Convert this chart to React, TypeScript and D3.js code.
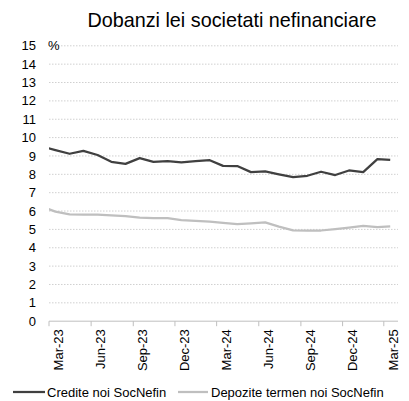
import * as d3 from "d3"

// monthly observations (mid-month), Feb-23 .. Mar-25
const months = [
  "2023-02", "2023-03", "2023-04", "2023-05", "2023-06", "2023-07", "2023-08",
  "2023-09", "2023-10", "2023-11", "2023-12", "2024-01", "2024-02", "2024-03",
  "2024-04", "2024-05", "2024-06", "2024-07", "2024-08", "2024-09", "2024-10",
  "2024-11", "2024-12", "2025-01", "2025-02", "2025-03",
]
const credite = [
  9.5, 9.32, 9.12, 9.28, 9.05, 8.68, 8.57, 8.88, 8.68, 8.72, 8.65, 8.72, 8.77,
  8.46, 8.45, 8.12, 8.16, 8.0, 7.85, 7.92, 8.14, 7.96, 8.21, 8.12, 8.83, 8.79,
]
const depozite = [
  6.22, 5.97, 5.82, 5.81, 5.81, 5.77, 5.72, 5.64, 5.62, 5.61, 5.51, 5.47, 5.42,
  5.35, 5.29, 5.33, 5.38, 5.15, 4.95, 4.93, 4.94, 5.02, 5.1, 5.19, 5.12, 5.16,
]
const yTicks = d3.range(0, 16)
const seriesNames = ["Credite noi SocNefin", "Depozite termen noi SocNefin"]
const colors = ["#404040", "#bfbfbf"]

const W = 409
const H = 401
const margin = { top: 46, right: 11, bottom: 80, left: 49 }

export default function App() {
  const parse = d3.timeParse("%Y-%m")
  const dates = months.map(m => d3.timeDay.offset(parse(m) as Date, 14))

  const x = d3.scaleTime()
    .domain([new Date(2023, 2, 1), new Date(2025, 3, 1)])
    .range([margin.left, W - margin.right])
  const y = d3.scaleLinear().domain([0, 15]).range([H - margin.bottom + 0.2, margin.top - 0.2])

  const xTicks = d3.timeMonth.range(new Date(2023, 2, 1), new Date(2025, 3, 2), 3)
  const fmt = d3.timeFormat("%b-%y")

  const line = d3.line<number>()
    .x((_, i) => x(dates[i]))
    .y(d => y(d))

  const font = "'Liberation Sans', Arial, sans-serif"
  const [x0, x1] = x.range()
  const yBase = y(0)

  return (
    <svg width={W} height={H} style={{ position: "absolute", left: 0, top: 0 }} fontFamily={font}>
      <rect width={W} height={H} fill="#fff" />
      <defs>
        <clipPath id="plot">
          <rect x={x0} y={0} width={x1 - x0} height={H} />
        </clipPath>
      </defs>

      <text x={232} y={27} fontSize={19.8} textAnchor="middle" fill="#000">
        Dobanzi lei societati nefinanciare
      </text>

      {/* gridlines */}
      {yTicks.filter(t => t > 0).map(t => (
        <line key={t} x1={x0} x2={x1} y1={y(t)} y2={y(t)}
          stroke="#d0d0d0" strokeWidth={1} strokeDasharray="1.5,1.5" />
      ))}
      {yTicks.map(t => (
        <text key={t} x={36} y={y(t)} dy="0.35em" fontSize={13} textAnchor="end" fill="#000">{t}</text>
      ))}
      <text x={48} y={y(15)} dy="0.35em" fontSize={13} fill="#000">%</text>

      {/* x axis */}
      <line x1={x0} x2={x1} y1={yBase} y2={yBase} stroke="#bfbfbf" strokeWidth={1} />
      {xTicks.map(t => (
        <g key={t.getTime()}>
          <line x1={x(t)} x2={x(t)} y1={yBase} y2={yBase + 5} stroke="#bfbfbf" strokeWidth={1} />
          <text transform={`translate(${x(t) + 14},${yBase + 8}) rotate(-90)`}
            fontSize={13} textAnchor="end" fill="#000">{fmt(t)}</text>
        </g>
      ))}

      {/* series */}
      <g clipPath="url(#plot)">
        <path d={line(depozite) ?? ""} fill="none" stroke={colors[1]} strokeWidth={2.25} strokeLinejoin="round" />
        <path d={line(credite) ?? ""} fill="none" stroke={colors[0]} strokeWidth={2.25} strokeLinejoin="round" />
      </g>

      {/* legend */}
      <line x1={13} x2={45} y1={392} y2={392} stroke={colors[0]} strokeWidth={2.25} />
      <text x={47} y={392} dy="0.35em" fontSize={13} fill="#000">{seriesNames[0]}</text>
      <line x1={178} x2={208} y1={392} y2={392} stroke={colors[1]} strokeWidth={2.25} />
      <text x={211} y={392} dy="0.35em" fontSize={13} fill="#000">{seriesNames[1]}</text>
    </svg>
  )
}
